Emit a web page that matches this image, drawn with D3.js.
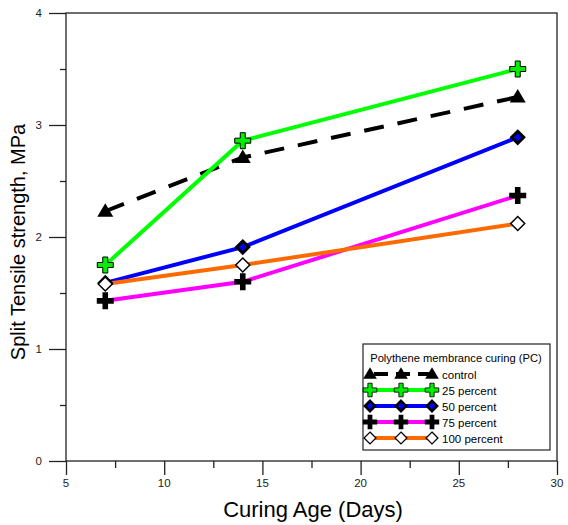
<!DOCTYPE html>
<html><head><meta charset="utf-8">
<script src="https://cdn.jsdelivr.net/npm/d3@7"></script>
<style>body{margin:0;background:#fff}svg{display:block;font-family:"Liberation Sans",Arial,sans-serif}</style>
</head><body><svg id="c" width="568" height="525"></svg>
<script>
const days = [7, 14, 28];
const control = [2.23, 2.71, 3.25];
const pc25 = [1.75, 2.86, 3.50];
const pc50 = [1.59, 1.91, 2.89];
const pc75 = [1.43, 1.60, 2.37];
const pc100 = [1.58, 1.75, 2.12];
const seriesNames = ["control", "25 percent", "50 percent", "75 percent", "100 percent"];
const xTicks = [5, 10, 15, 20, 25, 30];
const yTicks = [0, 1, 2, 3, 4];
const legendTitle = "Polythene membrance curing (PC)";

const svg = d3.select("#c");
const L = 66, R = 557, T = 13, B = 461;
const x = d3.scaleLinear().domain([5, 30]).range([L, R]);
const y = d3.scaleLinear().domain([0, 4]).range([B, T]);

// frame
svg.append("rect").attr("x", L).attr("y", T).attr("width", R - L).attr("height", B - T)
  .attr("fill", "none").attr("stroke", "#222").attr("stroke-width", 1.3);

// axes
const gx = svg.append("g").attr("transform", `translate(0,${B})`);
gx.call(d3.axisBottom(x).tickValues(d3.range(5, 30.1, 2.5)).tickSize(7).tickFormat(""));
gx.call(g => g.selectAll(".tick line").filter(d => d % 5 === 0).attr("y2", 14));
gx.select(".domain").remove();
gx.selectAll(".tick line").attr("stroke", "#222").attr("stroke-width", 1.3);
svg.append("g").selectAll("text").data(xTicks).join("text")
  .attr("x", d => x(d)).attr("y", 487).attr("text-anchor", "middle")
  .attr("font-size", 11.5).attr("fill", "#222").text(d => d);

const gy = svg.append("g").attr("transform", `translate(${L},0)`);
gy.call(d3.axisLeft(y).tickValues(d3.range(0, 4.01, 0.5)).tickSize(6).tickFormat(""));
gy.call(g => g.selectAll(".tick line").filter(d => Math.abs(d - Math.round(d)) < 1e-6).attr("x2", -17));
gy.select(".domain").remove();
gy.selectAll(".tick line").attr("stroke", "#222").attr("stroke-width", 1.3);
svg.append("g").selectAll("text").data(yTicks).join("text")
  .attr("x", 42).attr("y", d => y(d) + 4).attr("text-anchor", "end")
  .attr("font-size", 11.5).attr("fill", "#222").text(d => d);

// titles
svg.append("text").attr("x", 313).attr("y", 517).attr("text-anchor", "middle")
  .attr("font-size", 22).attr("fill", "#000").text("Curing Age (Days)");
svg.append("text").attr("transform", "translate(25,242) rotate(-90)").attr("text-anchor", "middle")
  .attr("font-size", 20).attr("fill", "#000").text("Split Tensile strength, MPa");

// markers
function plusPath(h, t) {
  return `M${-t},${-h}H${t}V${-t}H${h}V${t}H${t}V${h}H${-t}V${t}H${-h}V${-t}H${-t}Z`;
}
const markers = {
  tri: (g) => g.append("path").attr("d", "M0,-8L8,5.5L-8,5.5Z").attr("fill", "#000"),
  plusG: (g) => g.append("path").attr("d", plusPath(8, 2.5)).attr("fill", "#00ee00").attr("stroke", "#000").attr("stroke-width", 1),
  diaB: (g) => g.append("path").attr("d", "M0,-6L6,0L0,6L-6,0Z").attr("fill", "#0000ff").attr("stroke", "#000").attr("stroke-width", 3),
  plusK: (g) => g.append("path").attr("d", plusPath(8.5, 2.8)).attr("fill", "#000"),
  diaW: (g) => g.append("path").attr("d", "M0,-7L7,0L0,7L-7,0Z").attr("fill", "#fff").attr("stroke", "#000").attr("stroke-width", 1.5)
};
const series = [
  {name: seriesNames[0], vals: control, color: "#000", dash: "20,14", mk: "tri"},
  {name: seriesNames[1], vals: pc25, color: "#00ff00", dash: null, mk: "plusG"},
  {name: seriesNames[2], vals: pc50, color: "#0000ff", dash: null, mk: "diaB"},
  {name: seriesNames[3], vals: pc75, color: "#ff00ff", dash: null, mk: "plusK"},
  {name: seriesNames[4], vals: pc100, color: "#ff6a00", dash: null, mk: "diaW"}
];
const line = d3.line().x(d => x(d[0])).y(d => y(d[1]));
series.forEach(s => {
  const pts = days.map((d, i) => [d, s.vals[i]]);
  const p = svg.append("path").datum(pts).attr("d", line).attr("fill", "none")
    .attr("stroke", s.color).attr("stroke-width", 4);
  if (s.dash) p.attr("stroke-dasharray", s.dash);
});
series.forEach(s => {
  days.forEach((d, i) => {
    const g = svg.append("g").attr("transform", `translate(${x(d)},${y(s.vals[i])})`);
    markers[s.mk](g);
  });
});

// legend
const lg = svg.append("g");
lg.append("rect").attr("x", 363).attr("y", 344).attr("width", 187).attr("height", 106)
  .attr("fill", "#fff").attr("stroke", "#222").attr("stroke-width", 1.2);
lg.append("text").attr("x", 456).attr("y", 362).attr("text-anchor", "middle")
  .attr("font-size", 11.2).attr("fill", "#000").text(legendTitle);
series.forEach((s, i) => {
  const yy = 374 + i * 16;
  const ln = lg.append("line").attr("x1", 370).attr("x2", 432).attr("y1", yy).attr("y2", yy)
    .attr("stroke", s.color).attr("stroke-width", 4);
  if (s.dash) ln.attr("stroke-dasharray", "14,8").attr("stroke-dashoffset", -4);
  [370, 401, 432].forEach(xx => {
    const g = lg.append("g").attr("transform", `translate(${xx},${yy}) scale(0.85)`);
    markers[s.mk](g);
  });
  lg.append("text").attr("x", 442).attr("y", yy + 4.5).attr("font-size", 11.5)
    .attr("fill", "#000").text(s.name);
});
</script></body></html>
